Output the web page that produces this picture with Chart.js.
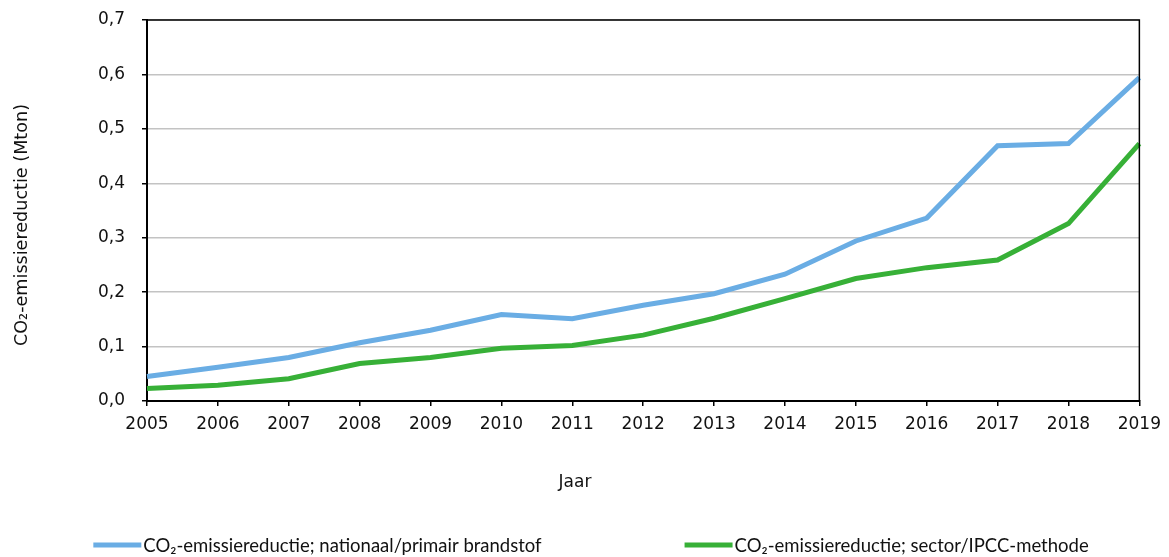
<!DOCTYPE html>
<html>
<head>
<meta charset="utf-8">
<script src="https://cdn.jsdelivr.net/npm/chart.js@4.4.1/dist/chart.umd.min.js"></script>
<style>
  html, body { margin: 0; padding: 0; background: #fff; }
  #wrap { width: 1169px; height: 557px; position: relative; }
</style>
</head>
<body>
<div id="wrap"><canvas id="chart"></canvas></div>
<script>
// ---------- data ----------
const years = ['2005', '2006', '2007', '2008', '2009', '2010', '2011', '2012', '2013', '2014', '2015', '2016', '2017', '2018', '2019'];
const nationaal = [0.045, 0.062, 0.080, 0.107, 0.130, 0.159, 0.151, 0.176, 0.197, 0.233, 0.294, 0.336, 0.469, 0.473, 0.594];
const sector = [0.023, 0.029, 0.041, 0.069, 0.080, 0.097, 0.102, 0.121, 0.152, 0.188, 0.225, 0.245, 0.259, 0.326, 0.473];
const seriesNames = ['CO\u2082-emissiereductie; nationaal/primair brandstof', 'CO\u2082-emissiereductie; sector/IPCC-methode'];
const seriesColors = ['#6AADE4', '#37B037'];
const yTitle = 'CO\u2082-emissiereductie (Mton)';
const xTitle = 'Jaar';

const axisFont = { family: "'DejaVu Sans'", size: 17 };
const legendFont = '18.5px Lato, "Open Sans", sans-serif';

// frame round the plot area, axis titles and legend
const framePlugin = {
  id: 'frame',
  afterDraw(chart) {
    const { ctx, chartArea: a } = chart;
    ctx.save();
    ctx.strokeStyle = '#000';
    ctx.lineWidth = 1.5;
    ctx.beginPath();
    ctx.moveTo(a.left, a.top);
    ctx.lineTo(a.right, a.top);
    ctx.lineTo(a.right, a.bottom);
    ctx.stroke();

    // axis titles (placed like the original, not centred on the plot area)
    ctx.fillStyle = '#111';
    ctx.textAlign = 'center';
    ctx.textBaseline = 'middle';
    ctx.font = "17px 'DejaVu Sans'";
    ctx.fillText(xTitle, 575, 483);

    ctx.save();
    ctx.translate(22, 225);
    ctx.rotate(-Math.PI / 2);
    ctx.font = "17.6px 'DejaVu Sans'";
    ctx.fillText(yTitle, 0, 0);
    ctx.restore();

    // legend
    ctx.font = legendFont;
    ctx.textAlign = 'left';
    const swatch = 48, gap = 2, itemGap = 143;
    const widths = seriesNames.map(n => swatch + gap + ctx.measureText(n).width);
    const total = widths.reduce((s, w) => s + w, 0) + itemGap * (widths.length - 1);
    let x = 591 - total / 2;
    const y = 545;
    seriesNames.forEach((name, i) => {
      ctx.strokeStyle = seriesColors[i];
      ctx.lineWidth = 5;
      ctx.beginPath();
      ctx.moveTo(x, y);
      ctx.lineTo(x + swatch, y);
      ctx.stroke();
      ctx.fillStyle = '#111';
      ctx.fillText(name, x + swatch + gap, y + 1);
      x += widths[i] + itemGap;
    });
    ctx.restore();
  }
};

new Chart(document.getElementById('chart'), {
  type: 'line',
  data: {
    labels: years,
    datasets: [
      { label: seriesNames[0], data: nationaal, borderColor: seriesColors[0], backgroundColor: seriesColors[0] },
      { label: seriesNames[1], data: sector, borderColor: seriesColors[1], backgroundColor: seriesColors[1] }
    ]
  },
  options: {
    responsive: true,
    maintainAspectRatio: false,
    animation: false,
    devicePixelRatio: 1,
    layout: { padding: { left: 0, top: 20, right: 29, bottom: 65 } },
    elements: {
      line: { borderWidth: 5, tension: 0, borderJoinStyle: 'miter', borderCapStyle: 'butt' },
      point: { radius: 0, hoverRadius: 0 }
    },
    plugins: {
      legend: { display: false },
      tooltip: { enabled: false }
    },
    scales: {
      x: {
        offset: false,
        grid: { display: true, drawOnChartArea: false, drawTicks: true, tickLength: 5, color: '#000', lineWidth: 1.5 },
        border: { display: true, color: '#000', width: 2 },
        ticks: { font: axisFont, color: '#111', padding: 8, maxRotation: 0, autoSkip: false },
        title: { display: false },
        afterFit(scale) { scale.height = 91; }
      },
      y: {
        min: 0,
        max: 0.7,
        grid: { color: '#C3C3C3', lineWidth: 1.5, tickLength: 5, tickColor: '#000', tickWidth: 1.5 },
        border: { display: true, color: '#000', width: 2 },
        ticks: {
          stepSize: 0.1,
          font: axisFont,
          color: '#111',
          padding: 17,
          callback: v => v.toFixed(1).replace('.', ',')
        },
        title: { display: false },
        afterFit(scale) { scale.width = 147; scale.paddingTop = 0; scale.paddingBottom = 0; }
      }
    }
  },
  plugins: [framePlugin]
});
</script>
</body>
</html>
